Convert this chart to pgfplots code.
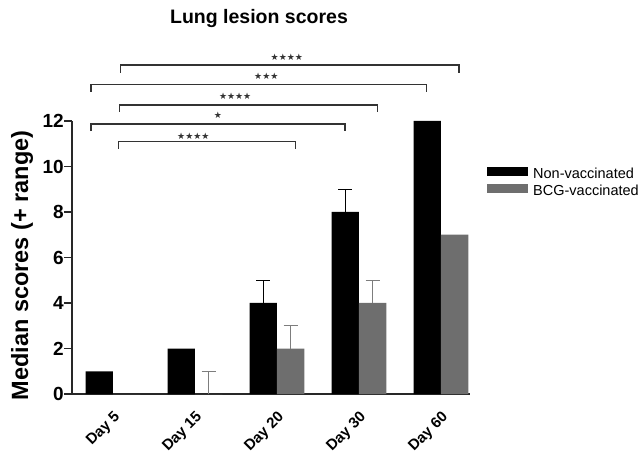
\documentclass[border=0pt]{standalone}
\usepackage{pgfplots}
\pgfplotsset{compat=1.18}
\usepackage{pgfplotstable}
\usepackage{fontspec}
\setmainfont{Liberation Sans}
\newfontfamily\starfont{DejaVu Sans}
\definecolor{bargray}{RGB}{110,110,110}
\definecolor{errgray}{RGB}{125,125,125}
\definecolor{axisgray}{RGB}{40,40,40}

\pgfplotstableread{
x y
0 1
1 2
2 4
3 8
4 12
}\nonvac
\pgfplotstableread{
x y
0 0
1 0
2 2
3 4
4 7
}\bcg
% upper range (only groups where the range exceeds the median)
\pgfplotstableread{
x y e
2 4 1
3 8 1
}\nonvacerr
\pgfplotstableread{
x y e
1 0 1
2 2 1
3 4 1
}\bcgerr

\begin{document}
\begin{tikzpicture}[x=1pt,y=1pt]
\begin{axis}[
  at={(72pt,61pt)}, anchor=south west,
  scale only axis, width=398pt, height=273pt,
  xmin=-0.5, xmax=4.354, ymin=0, ymax=12,
  axis x line*=bottom, axis y line*=left,
  axis line style={line width=1.2pt, color=axisgray},
  xtick={0,...,4}, xticklabels={Day 5, Day 15, Day 20, Day 30, Day 60},
  x tick style={draw=none},
  xticklabel style={font=\bfseries\fontsize{15}{15}\selectfont, inner sep=0pt, xshift=0pt, yshift=-8pt, rotate=45, anchor=north east},
  ytick={0,2,...,12}, yticklabels={0,2,4,6,8,10,12},
  y tick style={line width=1.2pt, color=axisgray},
  tick align=outside, major tick length=8pt,
  yticklabel style={font=\bfseries\fontsize{19}{19}\selectfont, inner sep=0pt},
  clip=false,
  legend cell align=left,
  legend style={at={(1.0427,0.8315)}, anchor=north west, draw=none, fill=none, inner sep=0pt,
    row sep=2.5pt, font=\fontsize{14.5}{14.5}\selectfont,
    nodes={inner xsep=0pt, inner ysep=0pt, text height=10.5pt, text depth=3pt}},
]
\addplot[ybar, bar width=0.333, bar shift=0, fill=black, draw=none,
  area legend, legend image code/.code={\fill[black] (0pt,-1.5pt) rectangle (41pt,7.5pt); \path (46pt,0pt);}]
  table[x expr=\thisrow{x}-0.1665, y=y]{\nonvac};
\addlegendentry{Non-vaccinated}
\addplot[ybar, bar width=0.333, bar shift=0, fill=bargray, draw=none,
  area legend, legend image code/.code={\fill[bargray] (0pt,-1.5pt) rectangle (41pt,7.5pt); \path (46pt,0pt);}]
  table[x expr=\thisrow{x}+0.1665, y=y]{\bcg};
\addlegendentry{BCG-vaccinated}
% range bars
\addplot[forget plot, draw=none, no marks,
  error bars/.cd, y dir=plus, y explicit,
  error bar style={draw=black, line width=1.3pt},
  error mark=|, error mark options={draw=black, line width=1.3pt, mark size=7pt}]
  table[x expr=\thisrow{x}-0.1665, y=y, y error=e]{\nonvacerr};
\addplot[forget plot, draw=none, no marks,
  error bars/.cd, y dir=plus, y explicit,
  error bar style={draw=errgray, line width=1.3pt},
  error mark=|, error mark options={draw=errgray, line width=1.3pt, mark size=7pt}]
  table[x expr=\thisrow{x}+0.1665, y=y, y error=e]{\bcgerr};
% significance brackets
\addplot[forget plot, no marks, sharp plot, line width=1.3pt, black!80] coordinates {(0.094,14.12) (0.094,14.46) (4.22,14.46) (4.22,14.12)};
\addplot[forget plot, no marks, sharp plot, line width=1.3pt, black!80] coordinates {(-0.268,13.29) (-0.268,13.61) (3.826,13.61) (3.826,13.29)};
\addplot[forget plot, no marks, sharp plot, line width=1.3pt, black!80] coordinates {(0.077,12.40) (0.077,12.70) (3.228,12.70) (3.228,12.40)};
\addplot[forget plot, no marks, sharp plot, line width=1.3pt, black!80] coordinates {(-0.268,11.56) (-0.268,11.87) (2.829,11.87) (2.829,11.56)};
\addplot[forget plot, no marks, sharp plot, line width=1.3pt, black!80] coordinates {(0.065,10.79) (0.065,11.09) (2.228,11.09) (2.228,10.79)};
\node[font=\starfont\fontsize{9}{9}\selectfont, text=black!80, inner sep=0pt] at (axis cs:2.12,14.81) {★★★★};
\node[font=\starfont\fontsize{9}{9}\selectfont, text=black!80, inner sep=0pt] at (axis cs:1.87,13.95) {★★★};
\node[font=\starfont\fontsize{9}{9}\selectfont, text=black!80, inner sep=0pt] at (axis cs:1.49,13.07) {★★★★};
\node[font=\starfont\fontsize{9}{9}\selectfont, text=black!80, inner sep=0pt] at (axis cs:1.28,12.26) {★};
\node[font=\starfont\fontsize{9}{9}\selectfont, text=black!80, inner sep=0pt] at (axis cs:0.98,11.34) {★★★★};
\end{axis}
\node[font=\bfseries\fontsize{19.5}{19.5}\selectfont, anchor=base] at (259,431) {Lung lesion scores};
\node[font=\bfseries\fontsize{23.5}{23.5}\selectfont, rotate=90, anchor=base] at (28,189.5) {Median scores (+ range)};
\pgfresetboundingbox
\path[use as bounding box] (0,0) rectangle (642,455);
\end{tikzpicture}
\end{document}
